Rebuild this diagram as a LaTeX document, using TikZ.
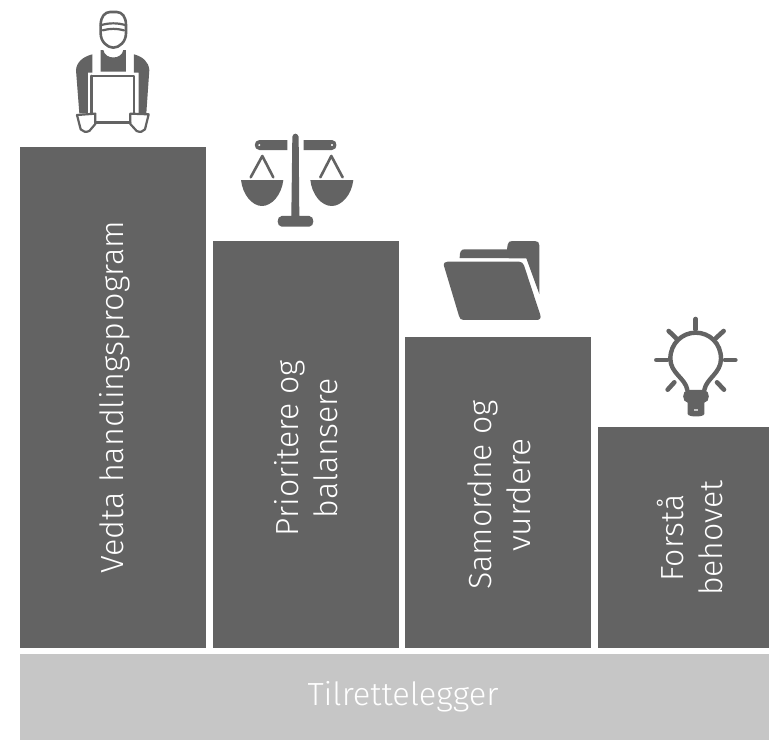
\documentclass[tikz,border=0pt]{standalone}
\usepackage{fontspec}
\setmainfont{Fira Sans Light}
\definecolor{bardark}{HTML}{636363}
\definecolor{barlight}{HTML}{C6C6C6}
\newcommand\stretchline[2]{\scalebox{#1}[1]{#2}}
\tikzset{
  bar/.style={fill=bardark,draw=none,anchor=north west,inner sep=0,outer sep=0},
  base/.style={fill=barlight,draw=none,anchor=north west,inner sep=0,outer sep=0},
  label/.style={text=white,font=\fontsize{32}{39}\selectfont,align=center,inner sep=0},
  ink/.style={fill=bardark,draw=none},
  inkline/.style={draw=bardark,fill=none,line cap=round,line join=round},
  icon/.style={shift={#1},x=0.3333pt,y=-0.3333pt}
}
\begin{document}
\begin{tikzpicture}[x=1pt,y=-1pt]
\useasboundingbox (0,0) rectangle (769,740);
\node[bar,minimum width=186pt,minimum height=501pt] (b1) at (20,147) {};
\node[bar,minimum width=186pt,minimum height=407pt] (b2) at (213,241) {};
\node[bar,minimum width=186pt,minimum height=311pt] (b3) at (405,337) {};
\node[bar,minimum width=171pt,minimum height=221pt] (b4) at (598,427) {};
\node[base,minimum width=749pt,minimum height=86pt] (b5) at (20,654) {};
\node[label,rotate=90] (t1) at (115,397) {\stretchline{1.01}{Vedta handlingsprogram}};
\node[label,rotate=90] (t2) at (306,448) {Prioritere og\\balansere};
\node[label,rotate=90] (t3) at (499,495) {Samordne og\\\stretchline{1.05}{vurdere}};
\node[label,rotate=90] (t4) at (690,538) {Forstå\\behovet};
\node[label] (t5) at (403,697) {\stretchline{1.02}{Tilrettelegger}};
% worker
\begin{scope}[icon={(60,0)}]
  \draw[inkline,line width=2.6pt] (122,75) .. controls (122,50) and (135,36) .. (150,36) -- (170,36) .. controls (186,36) and (198,50) .. (198,75) -- (198,100) .. controls (198,125) and (178,143) .. (160,143) .. controls (142,143) and (122,125) .. (122,100) -- cycle;
  \draw[inkline,line width=2.2pt] (122,76) .. controls (145,68) and (175,68) .. (198,76);
  \draw[inkline,line width=2.2pt] (128,91) .. controls (150,85) and (170,85) .. (192,91);
  \fill[bardark] (122,150) -- (130,150) .. controls (135,180) and (185,180) .. (190,150) -- (198,150) -- (198,215) -- (122,215) -- cycle;
  \fill[bardark] (97,163) -- (97,218) -- (84,218) -- (84,340) -- (58,340) -- (48,210) .. controls (50,185) and (70,170) .. (97,163) -- cycle;
  \fill[bardark] (222,163) -- (222,218) -- (236,218) -- (236,340) -- (259,340) -- (268,210) .. controls (266,185) and (248,170) .. (222,163) -- cycle;
  \draw[inkline,line width=2.6pt] (94,228) -- (222,228) -- (222,340);
  \draw[inkline,line width=2.6pt] (94,228) -- (94,340);
  \draw[inkline,line width=2.6pt] (107,368) -- (210,368);
  \draw[inkline,line width=2.2pt] (51,345) -- (106,341) -- (106,372) -- (88,393) .. controls (78,398) and (68,395) .. (62,388) -- cycle;
  \draw[inkline,line width=2.2pt] (266,343) -- (211,341) -- (211,372) -- (230,393) .. controls (240,398) and (250,395) .. (255,388) -- cycle;
\end{scope}
% scales
\begin{scope}[icon={(230,120)}]
  \fill[bardark] (187,50) .. controls (190,38) and (202,38) .. (206,50) -- (208,288) -- (238,288) .. controls (254,288) and (254,320) .. (238,320) -- (155,320) .. controls (139,320) and (139,288) .. (155,288) -- (184,288) -- cycle;
  \fill[bardark,even odd rule] (172,60) -- (172,90) -- (88,90) .. controls (70,90) and (70,60) .. (88,60) -- cycle (88,75) circle (4);
  \fill[bardark,even odd rule] (221,60) -- (221,90) -- (306,90) .. controls (324,90) and (324,60) .. (306,60) -- cycle (306,75) circle (4);
  \draw[inkline,line width=2.6pt] (62,172) -- (97,108) -- (130,172);
  \draw[inkline,line width=2.6pt] (271,172) -- (304,108) -- (338,172);
  \fill[bardark] (33,180) -- (160,180) .. controls (155,225) and (125,258) .. (96,258) .. controls (67,258) and (38,225) .. (33,180) -- cycle;
  \fill[bardark] (241,180) -- (370,180) .. controls (365,225) and (335,258) .. (305,258) .. controls (275,258) and (246,225) .. (241,180) -- cycle;
\end{scope}
% folder
\begin{scope}[icon={(435,230)}]
  \fill[bardark] (74,84) .. controls (74,65) and (78,58) .. (88,58) -- (216,58) -- (218,44) .. controls (219,36) and (224,33) .. (232,33) -- (300,33) .. controls (309,33) and (313,38) .. (313,46) -- (313,192) -- (274,85) -- cycle;
  \fill[bardark] (27,108) .. controls (25,99) and (30,95) .. (38,95) -- (252,95) .. controls (260,95) and (264,99) .. (267,106) -- (316,255) .. controls (319,265) and (314,270) .. (304,270) -- (86,270) .. controls (78,270) and (74,266) .. (72,258) -- cycle;
\end{scope}
% bulb
\begin{scope}[icon={(645,310)}]
  \draw[inkline,line width=4.4pt] (127,240) .. controls (122,205) and (76,190) .. (76,146) .. controls (76,100) and (112,68) .. (152,68) .. controls (194,68) and (228,100) .. (228,146) .. controls (228,190) and (184,205) .. (178,240);
  \fill[bardark] (128,240) -- (178,240) .. controls (196,242) and (196,276) .. (178,278) -- (178,312) .. controls (176,322) and (130,322) .. (128,312) -- (128,278) .. controls (110,276) and (110,242) .. (128,240) -- cycle;
  \fill[barlight] (146,298) rectangle (160,304);
  \draw[inkline,line width=4.6pt] (152,27) -- (152,58);
  \draw[inkline,line width=4.6pt] (71,63) -- (94,85);
  \draw[inkline,line width=4.6pt] (236,63) -- (212,85);
  \draw[inkline,line width=4.6pt] (34,150) -- (66,150);
  \draw[inkline,line width=4.6pt] (240,150) -- (271,150);
  \draw[inkline,line width=4.6pt] (68,239) -- (88,217);
  \draw[inkline,line width=4.6pt] (237,239) -- (216,217);
\end{scope}
\end{tikzpicture}
\end{document}
